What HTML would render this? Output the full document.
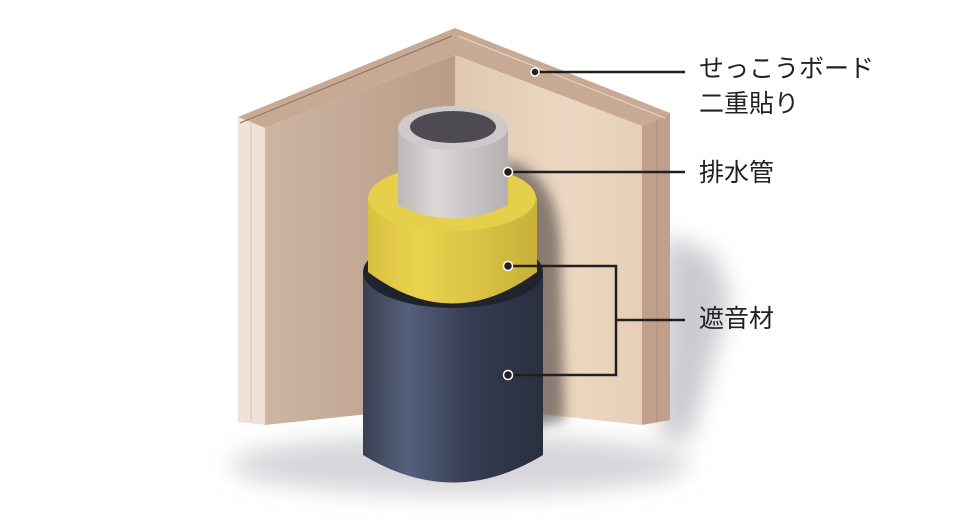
<!DOCTYPE html>
<html><head><meta charset="utf-8"><style>
html,body{margin:0;padding:0;background:#fff;width:980px;height:520px;overflow:hidden}
svg{display:block}
text{font-family:"Liberation Sans","Noto Sans CJK JP",sans-serif;font-size:25px;fill:#231f20}
</style></head><body>
<svg width="980" height="520" viewBox="0 0 980 520">
<defs>
<linearGradient id="lw" x1="0" x2="1"><stop offset="0" stop-color="#cdb5a2"/><stop offset="1" stop-color="#b89c86"/></linearGradient>
<linearGradient id="rw" x1="0" x2="1"><stop offset="0" stop-color="#e0c8b0"/><stop offset="0.6" stop-color="#ecd8c2"/><stop offset="1" stop-color="#e6cfb8"/></linearGradient>
<linearGradient id="nv" x1="0" x2="1"><stop offset="0" stop-color="#3a4052"/><stop offset="0.25" stop-color="#56607c"/><stop offset="0.6" stop-color="#353c52"/><stop offset="1" stop-color="#2a2f3e"/></linearGradient>
<linearGradient id="yl" x1="0" x2="1"><stop offset="0" stop-color="#d8c040"/><stop offset="0.3" stop-color="#ead44e"/><stop offset="1" stop-color="#c9b03a"/></linearGradient>
<linearGradient id="gr" x1="0" x2="1"><stop offset="0" stop-color="#bdb8b8"/><stop offset="0.35" stop-color="#dcd8d8"/><stop offset="1" stop-color="#b5afb0"/></linearGradient>
<filter id="bl" x="-50%" y="-50%" width="200%" height="200%"><feGaussianBlur stdDeviation="12"/></filter>
<filter id="bl2" x="-50%" y="-50%" width="200%" height="200%"><feGaussianBlur stdDeviation="6"/></filter>
</defs>
<ellipse cx="460" cy="465" rx="230" ry="30" fill="#d6d6da" filter="url(#bl)"/>
<polygon points="665,235 715,255 730,300 690,440 660,440" fill="#a8a8b0" opacity="0.6" filter="url(#bl)"/>
<!-- walls -->
<polygon points="238,117 455,28 670,113 642,126 455,55 265,128" fill="#c8a994"/>
<polygon points="238,117 265,128 265,425 238,422" fill="#efe2d8"/>
<polygon points="265,128 455,55 455,405 265,425" fill="url(#lw)"/>
<polygon points="455,55 642,126 642,425 455,405" fill="url(#rw)"/>
<polygon points="642,126 670,113 670,420 642,425" fill="#c0a08a"/>
<line x1="240" y1="123" x2="452" y2="36" stroke="#8a7060" stroke-width="1"/>
<line x1="458" y1="36" x2="665" y2="118" stroke="#e8d8cc" stroke-width="1"/>
<line x1="251" y1="121" x2="251" y2="422" stroke="#d6c4b6" stroke-width="1"/>
<line x1="657" y1="120" x2="657" y2="422" stroke="#a88c78" stroke-width="1"/>
<!-- shadow on wall -->
<path d="M505,160 Q555,170 560,240 L565,420 L520,430 Z" fill="#3a3030" opacity="0.55" filter="url(#bl2)"/>
<!-- navy cylinder -->
<path d="M363,272 L363,455 Q453,510 543,455 L543,272 Z" fill="url(#nv)"/>
<ellipse cx="453" cy="272" rx="90" ry="36" fill="#20232c"/>
<!-- yellow -->
<path d="M368,198 L368,272 Q452,335 537,272 L537,198 Z" fill="url(#yl)"/>
<ellipse cx="452" cy="198" rx="84" ry="33" fill="#e6cf4a"/>
<!-- grey pipe -->
<path d="M398,128 L398,205 Q453,232 508,205 L508,128 Z" fill="url(#gr)"/>
<ellipse cx="453" cy="128" rx="55" ry="22" fill="#cfcaca"/>
<ellipse cx="453" cy="127" rx="43" ry="16" fill="#4e4a52"/>
<!-- connectors -->
<g stroke="#231f20" stroke-width="2.5" fill="none">
<line x1="535" y1="72" x2="685" y2="72"/>
<line x1="508" y1="172" x2="685" y2="172"/>
<polyline points="508,266 616,266 616,375 508,375"/>
<line x1="616" y1="320" x2="685" y2="320"/>
</g>
<g fill="#231f20" stroke="#fff" stroke-width="1.5">
<circle cx="535" cy="72" r="4"/>
<circle cx="508" cy="172" r="4.5"/>
<circle cx="508" cy="266" r="4.5"/>
<circle cx="508" cy="375" r="4.5"/>
</g>
<text x="699" y="77">せっこうボード</text>
<text x="699" y="112">二重貼り</text>
<text x="699" y="181">排水管</text>
<text x="699" y="327">遮音材</text>
</svg>
</body></html>
